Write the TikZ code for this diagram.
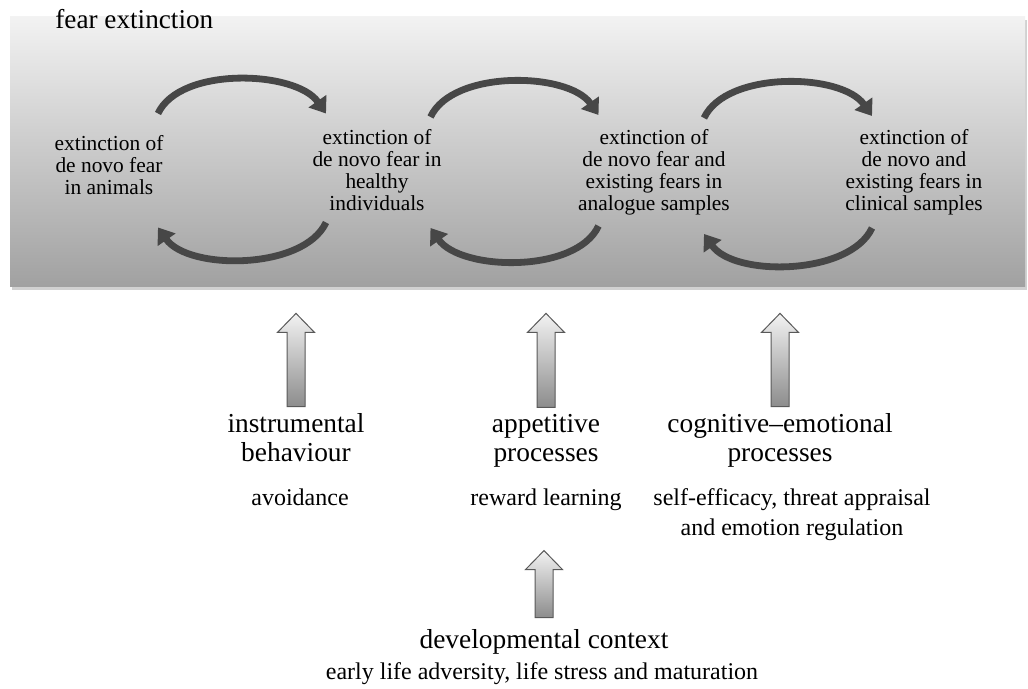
\documentclass[tikz,border=0pt]{standalone}
\usepackage{fontspec}
\setmainfont{Liberation Serif}
\usetikzlibrary{arrows.meta,calc,shadows}

% hollow upright arrow, from #1 (foot) up to #2 (tip)
\newcommand{\liftarrow}[2]{%
  \draw[liftbox] let \p1=#1, \p2=#2 in
    (\x1-4.5pt,\y1) -- (\x1-4.5pt,\y2-9.5pt) -- (\x1-9.25pt,\y2-9.5pt)
    -- (\x1,\y2) -- (\x1+9.25pt,\y2-9.5pt) -- (\x1+4.5pt,\y2-9.5pt)
    -- (\x1+4.5pt,\y1) -- cycle;}

\tikzset{
  panelbox/.style={top color=black!5, bottom color=black!37, draw=none,
    drop shadow={shadow xshift=1pt, shadow yshift=-1.5pt, fill=black!30, opacity=.6}},
  stage/.style={align=center, inner sep=2pt, font={\fontsize{10.7}{11}\selectfont}},
  factor/.style={align=center, inner sep=2pt, font={\fontsize{13.7}{14.5}\selectfont}},
  detail/.style={align=center, inner sep=2pt, font={\fontsize{12}{15}\selectfont}},
  relay/.style={line width=3.4pt, draw=black!72,
    -{Triangle[length=7.5pt,width=10.5pt]}},
  liftbox/.style={draw=black!65, line width=.5pt, top color=black!5, bottom color=black!45}
}

\begin{document}
\begin{tikzpicture}[x=0.5pt, y=0.5pt]
  \useasboundingbox (0,0) rectangle (1028,-689);

  % shaded band with the four stages
  \node[panelbox, minimum width=507.5pt, minimum height=135pt] (panel) at (517.5,-152) {};
  \node[anchor=base west, inner sep=0pt, font={\fontsize{13.6}{15}\selectfont}] (title) at (55,-29) {fear extinction};

  \node[stage] (A) at (109,-165) {extinction of\\de novo fear\\in animals};
  \node[stage] (B) at (377,-170) {extinction of\\de novo fear in\\healthy\\individuals};
  \node[stage] (C) at (654,-172) {extinction of\\de novo fear and\\existing fears in\\analogue samples};
  \node[stage] (D) at (914,-172) {extinction of\\de novo and\\existing fears in\\clinical samples};

  \coordinate (ab) at ($(A)!.5!(B)$);
  \coordinate (bc) at ($(B)!.5!(C)$);
  \coordinate (cd) at ($(C)!.5!(D)$);

  % back-and-forth arcs between neighbouring stages
  \draw[relay] ([shift={(-85,54)}]ab) to[out=65,in=125,looseness=.8] ([shift={(83,54)}]ab);
  \draw[relay] ([shift={(83,-55)}]ab) to[out=-115,in=-55,looseness=.8] ([shift={(-85,-60)}]ab);
  \draw[relay] ([shift={(-85,54)}]bc) to[out=65,in=125,looseness=.8] ([shift={(83,56)}]bc);
  \draw[relay] ([shift={(83,-55)}]bc) to[out=-115,in=-55,looseness=.8] ([shift={(-85,-57)}]bc);
  \draw[relay] ([shift={(-80,54)}]cd) to[out=65,in=125,looseness=.8] ([shift={(88,56)}]cd);
  \draw[relay] ([shift={(88,-56)}]cd) to[out=-115,in=-55,looseness=.8] ([shift={(-80,-62)}]cd);

  % processes feeding in from below
  \node[factor, anchor=base] (instr) at (296,-462) {instrumental\\behaviour};
  \node[factor, anchor=base] (appet) at (546,-462) {appetitive\\processes};
  \node[factor, anchor=base] (cogn) at (780,-462) {cognitive--emotional\\processes};

  \node[detail, anchor=base] (avoid) at (300,-505) {avoidance};
  \node[detail, anchor=base] (reward) at (546,-505) {reward learning};
  \node[detail, anchor=base] (selfeff) at (792,-535) {self-efficacy, threat appraisal\\and emotion regulation};

  \node[factor, anchor=base] (dev) at (544,-648) {developmental context};
  \node[detail, anchor=base] (early) at (542,-679) {early life adversity, life stress and maturation};

  \liftarrow{([yshift=1.5pt]instr.north)}{($(instr.north |- panel.south)+(0,-13pt)$)}
  \liftarrow{([yshift=1.5pt]appet.north)}{($(appet.north |- panel.south)+(0,-13pt)$)}
  \liftarrow{([yshift=1.5pt]cogn.north)}{($(cogn.north |- panel.south)+(0,-13pt)$)}
  \liftarrow{([yshift=3.5pt]dev.north)}{($(dev.north |- reward.south)+(0,-18pt)$)}
\end{tikzpicture}
\end{document}
